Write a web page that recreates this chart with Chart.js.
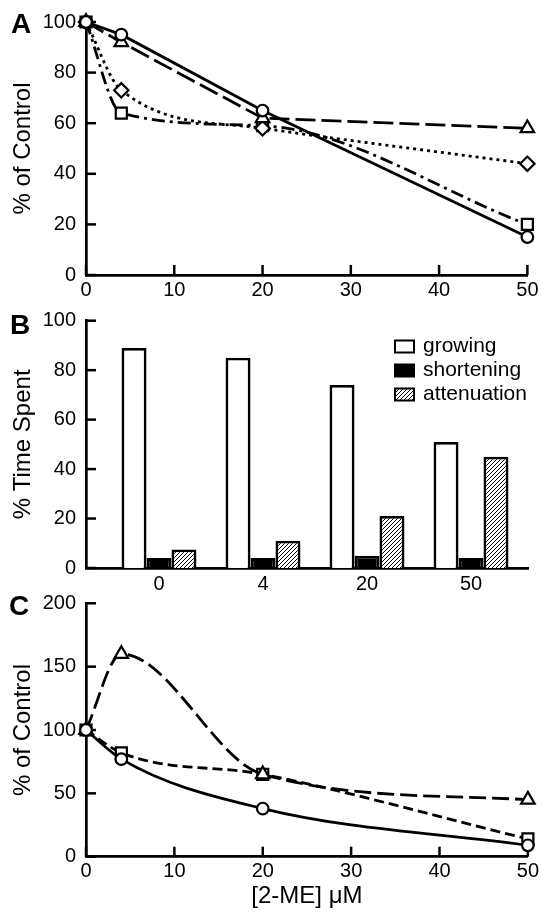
<!DOCTYPE html>
<html>
<head>
<meta charset="utf-8">
<script src="https://cdn.jsdelivr.net/npm/chart.js@4.4.1/dist/chart.umd.min.js"></script>
<style>
  html, body { margin: 0; padding: 0; background: #fff; }
  #wrap { position: relative; width: 542px; height: 918px; overflow: hidden; }
  canvas { position: absolute; left: 0; top: 0; }
  .lab { position: absolute; font: bold 28px "Liberation Sans", Arial, sans-serif; line-height: 1; color: #000; }
</style>
</head>
<body>
<div id="wrap">
  <canvas id="cA" width="542" height="918"></canvas>
  <canvas id="cB" width="542" height="918"></canvas>
  <canvas id="cC" width="542" height="918"></canvas>
  <div class="lab" style="left:11px; top:10px;">A</div>
  <div class="lab" style="left:10px; top:311px;">B</div>
  <div class="lab" style="left:9px; top:592px;">C</div>
</div>
<script>
// ---------- data ----------
const doses = [0, 4, 20, 50];

// Panel A (% of Control)
const aCircle   = [100, 95, 65, 15];
const aTriangle = [100, 92, 62, 58];
const aDiamond  = [100, 73, 58, 44];
const aSquare   = [100, 64, 59, 20];

// Panel B (% Time Spent)
const bCategories   = ['0', '4', '20', '50'];
const bGrowing      = [89, 85, 74, 51];
const bShortening   = [4, 4, 5, 4];
const bAttenuation  = [7.5, 11, 21, 45];

// Panel C (% of Control)
const cCircle   = [100, 77, 38, 9];
const cTriangle = [100, 160, 65, 45];
const cSquare   = [100, 82, 65, 14];

// ---------- setup ----------
const FONT = '"Liberation Sans", Arial, sans-serif';
Chart.defaults.font.family = FONT;
Chart.defaults.color = '#000';
Chart.defaults.animation = false;

const innerTicks = {
  id: 'innerTicks',
  beforeDatasetsDraw(chart, args, o) {
    const {ctx, chartArea: ca, scales} = chart;
    ctx.save();
    ctx.strokeStyle = '#000';
    ctx.lineWidth = 2.5;
    if (o.y) {
      scales.y.ticks.forEach(t => {
        const p = scales.y.getPixelForValue(t.value);
        ctx.beginPath(); ctx.moveTo(ca.left, p); ctx.lineTo(ca.left + o.len, p); ctx.stroke();
      });
    }
    if (o.x) {
      scales.x.ticks.forEach(t => {
        const p = scales.x.getPixelForValue(t.value);
        ctx.beginPath(); ctx.moveTo(p, ca.bottom); ctx.lineTo(p, ca.bottom - o.len); ctx.stroke();
      });
    }
    ctx.restore();
  }
};

const boxLegend = {
  id: 'boxLegend',
  afterDraw(chart, args, o) {
    if (!o.show) return;
    const ctx = chart.ctx;
    ctx.save();
    chart.data.datasets.forEach((ds, i) => {
      const y = o.y + i * o.dy;
      ctx.fillStyle = ds.backgroundColor;
      ctx.fillRect(o.x, y - o.h / 2, o.w, o.h);
      ctx.lineWidth = 2;
      ctx.strokeStyle = '#000';
      ctx.strokeRect(o.x, y - o.h / 2, o.w, o.h);
      ctx.fillStyle = '#000';
      ctx.font = '21px ' + FONT;
      ctx.textBaseline = 'middle';
      ctx.textAlign = 'left';
      ctx.fillText(ds.label, o.x + o.w + 9, y);
    });
    ctx.restore();
  }
};

function makeHatch() {
  const s = 4;
  const c = document.createElement('canvas');
  c.width = s; c.height = s;
  const g = c.getContext('2d');
  g.fillStyle = '#fff'; g.fillRect(0, 0, s, s);
  g.strokeStyle = '#000'; g.lineWidth = 1;
  g.beginPath();
  g.moveTo(0, s); g.lineTo(s, 0);
  g.moveTo(-1, 1); g.lineTo(1, -1);
  g.moveTo(s - 1, s + 1); g.lineTo(s + 1, s - 1);
  g.stroke();
  return document.getElementById('cB').getContext('2d').createPattern(c, 'repeat');
}

function pts(ys) { return doses.map((x, i) => ({x, y: ys[i]})); }

function lineDs(label, ys, style, radius, dash, interp) {
  return {
    label, data: pts(ys),
    borderColor: '#000', borderWidth: 2.8, borderDash: dash,
    pointStyle: style, pointRadius: radius, pointHoverRadius: radius,
    pointBackgroundColor: '#fff', pointBorderColor: '#000', pointBorderWidth: 2.2,
    fill: false, clip: false,
    tension: interp === 'monotone' ? 0.4 : 0,
    cubicInterpolationMode: interp === 'monotone' ? 'monotone' : 'default'
  };
}

function yAxis(max, step, title, titlePadTop) {
  return {
    min: 0, max,
    border: {display: true, color: '#000', width: 2.7},
    grid: {display: false, drawTicks: false},
    ticks: {stepSize: step, padding: 10, font: {size: 20}, color: '#000'},
    title: {display: true, text: title, font: {size: 24}, color: '#000', padding: {top: titlePadTop, bottom: 0}},
    afterFit(s) { s.width = 86; }
  };
}

// ---------- Panel A ----------
new Chart(document.getElementById('cA'), {
  type: 'line',
  data: {
    datasets: [
      lineDs('circle', aCircle, 'circle', 5.8, [], 'linear'),
      lineDs('triangle', aTriangle, 'triangle', 7.8, [20, 6], 'linear'),
      lineDs('diamond', aDiamond, 'rectRot', 7.2, [3, 4], 'monotone'),
      lineDs('square', aSquare, 'rect', 7.8, [13, 5, 3, 5], 'monotone')
    ]
  },
  options: {
    responsive: false,
    layout: {padding: {top: 21.5, right: 14, left: 0, bottom: 618}},
    plugins: {legend: {display: false}, tooltip: {enabled: false},
              innerTicks: {x: true, y: true, len: 10}, boxLegend: {show: false}},
    scales: {
      x: {
        type: 'linear', min: 0, max: 50,
        border: {display: true, color: '#000', width: 2.7},
        grid: {display: false, drawTicks: false},
        ticks: {stepSize: 10, padding: 3.5, font: {size: 20}, color: '#000'},
        afterFit(s) { s.height = 25; }
      },
      y: yAxis(100, 20, '% of Control', 9)
    }
  },
  plugins: [innerTicks, boxLegend]
});

// ---------- Panel B ----------
const hatch = makeHatch();
new Chart(document.getElementById('cB'), {
  type: 'bar',
  data: {
    datasets: [
      {label: 'growing', data: bGrowing.map((v, i) => ({x: i, y: v})), backgroundColor: '#fff'},
      {label: 'shortening', data: bShortening.map((v, i) => ({x: i, y: v})), backgroundColor: '#000'},
      {label: 'attenuation', data: bAttenuation.map((v, i) => ({x: i, y: v})), backgroundColor: hatch}
    ].map(d => Object.assign(d, {borderColor: '#000', borderWidth: 2.8, categoryPercentage: 0.72, barPercentage: 1.0}))
  },
  options: {
    responsive: false,
    layout: {padding: {top: 320.7, right: 14, left: 0, bottom: 326}},
    plugins: {legend: {display: false}, tooltip: {enabled: false},
              innerTicks: {x: false, y: true, len: 10},
              boxLegend: {show: true, x: 395, y: 346.5, dy: 24, w: 19, h: 12}},
    scales: {
      x: {
        type: 'linear', min: -0.702, max: 3.548, offset: false,
        border: {display: true, color: '#000', width: 2.7},
        grid: {display: false, drawTicks: false, offset: false},
        afterBuildTicks(s) { s.ticks = bCategories.map((c, i) => ({value: i})); },
        ticks: {autoSkip: false, padding: 4, font: {size: 20}, color: '#000',
                callback: (v) => bCategories[v]},
        afterFit(s) { s.height = 24; }
      },
      y: yAxis(100, 20, '% Time Spent', 9)
    }
  },
  plugins: [innerTicks, boxLegend]
});

// ---------- Panel C ----------
new Chart(document.getElementById('cC'), {
  type: 'line',
  data: {
    datasets: [
      lineDs('circle', cCircle, 'circle', 5.8, [], 'monotone'),
      lineDs('triangle', cTriangle, 'triangle', 7.8, [17, 6], 'monotone'),
      lineDs('square', cSquare, 'rect', 7.8, [10, 5], 'monotone')
    ]
  },
  options: {
    responsive: false,
    layout: {padding: {top: 603.3, right: 14, left: 0, bottom: 0}},
    plugins: {legend: {display: false}, tooltip: {enabled: false},
              innerTicks: {x: true, y: true, len: 10}, boxLegend: {show: false}},
    scales: {
      x: {
        type: 'linear', min: 0, max: 50,
        border: {display: true, color: '#000', width: 2.7},
        grid: {display: false, drawTicks: false},
        ticks: {stepSize: 10, padding: 3, font: {size: 20}, color: '#000'},
        title: {display: true, text: '[2-ME] \u03BCM', font: {size: 24}, color: '#000', padding: {top: 0, bottom: 7.5}},
        afterFit(s) { s.height = 61.3; }
      },
      y: yAxis(200, 50, '% of Control', 9)
    }
  },
  plugins: [innerTicks, boxLegend]
});
</script>
</body>
</html>
